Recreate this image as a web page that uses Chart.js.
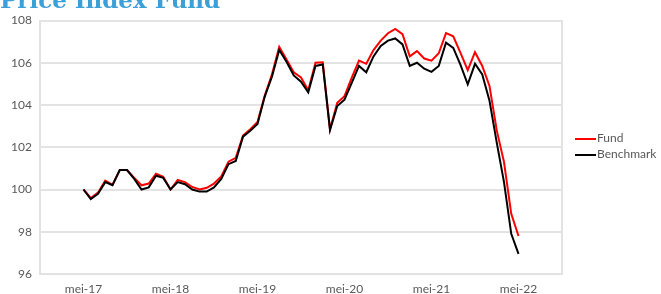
<!DOCTYPE html>
<html>
<head>
<meta charset="utf-8">
<script src="https://cdn.jsdelivr.net/npm/chart.js@4/dist/chart.umd.min.js"></script>
<style>
  html, body { margin: 0; padding: 0; background: #fff; }
  #wrap { position: relative; width: 661px; height: 294px; overflow: hidden; }
  #legend { position: absolute; left: 575px; top: 130px; font-family: Lato, sans-serif; font-size: 12px; color: #595959; }
  #legend div { height: 16px; line-height: 16px; white-space: nowrap; }
  #legend span { display: inline-block; width: 21px; height: 2px; vertical-align: middle; margin-right: 1px; }
</style>
</head>
<body>
<div id="wrap">
  <canvas id="priceChart"></canvas>
  <div id="legend"></div>
</div>
<script>
// --- Données (mei-17 t/m mei-22, maandelijks) ---
const months = ['jan','feb','mrt','apr','mei','jun','jul','aug','sep','okt','nov','dec'];

const fund = [
  100.0, 99.6, 99.85, 100.42, 100.22, 100.92, 100.92, 100.55, 100.2, 100.28, 100.75, 100.6,
  100.0, 100.45, 100.35, 100.12, 100.0, 100.08, 100.28, 100.62, 101.32, 101.5, 102.55, 102.85,
  103.2, 104.45, 105.45, 106.75, 106.15, 105.55, 105.3, 104.7, 106.0, 106.02, 102.85, 104.1,
  104.42, 105.3, 106.1, 105.95, 106.6, 107.05, 107.4, 107.6, 107.35, 106.3, 106.55, 106.2,
  106.1, 106.45, 107.4, 107.25, 106.47, 105.65, 106.5, 105.85, 104.9, 102.8, 101.3, 98.85,
  97.8
];

const benchmark = [
  100.0, 99.55, 99.8, 100.35, 100.2, 100.92, 100.92, 100.5, 100.0, 100.1, 100.65, 100.55,
  100.0, 100.35, 100.25, 100.0, 99.9, 99.9, 100.1, 100.5, 101.2, 101.35, 102.5, 102.78,
  103.1, 104.4, 105.35, 106.6, 106.05, 105.4, 105.1, 104.6, 105.85, 105.92, 102.82, 103.95,
  104.25, 105.05, 105.85, 105.55, 106.3, 106.8, 107.05, 107.15, 106.87, 105.85, 106.0, 105.72,
  105.57, 105.85, 106.95, 106.7, 105.9, 104.98, 105.95, 105.45, 104.2, 102.22, 100.35, 97.9,
  96.95
];

// As van nov-16 t/m nov-22 (lege maanden aan beide kanten, zoals in Excel)
const PAD = 6;
const labels = [];
for (let i = 0; i < fund.length + 2 * PAD; i++) {
  const m = (10 + i) % 12;
  const y = 16 + Math.floor((10 + i) / 12);
  labels.push(months[m] + '-' + y);
}
const blank = new Array(PAD).fill(null);

const yTicks = [96, 98, 100, 102, 104, 106, 108];

const GRID = '#e3e3e3';
const TEXT = '#595959';
const FONT = 'Lato, sans-serif';

// --- Titel (half buiten beeld, zoals in het origineel) ---
const titlePlugin = {
  id: 'titleText',
  afterDraw(chart) {
    const ctx = chart.ctx;
    ctx.save();
    ctx.font = 'bold 23px "DejaVu Serif", serif';
    ctx.fillStyle = '#3BA0D8';
    ctx.textBaseline = 'alphabetic';
    ctx.fillText('Price Index Fund', 0, 8);
    ctx.restore();
  }
};

const datasets = [
  { label: 'Fund', data: blank.concat(fund, blank), borderColor: '#FF0000', order: 1 },
  { label: 'Benchmark', data: blank.concat(benchmark, blank), borderColor: '#000000', order: 0 }
];

new Chart(document.getElementById('priceChart'), {
  type: 'line',
  data: {
    labels: labels,
    datasets: datasets.map(d => Object.assign({
      borderWidth: 2,
      pointRadius: 0,
      tension: 0,
      fill: false,
      spanGaps: false
    }, d))
  },
  options: {
    responsive: true,
    maintainAspectRatio: false,
    animation: false,
    layout: { padding: { top: 20.5, right: 99, left: 0, bottom: 0 } },
    plugins: {
      legend: { display: false },
      tooltip: { enabled: false }
    },
    scales: {
      x: {
        offset: false,
        grid: { display: false, drawTicks: false },
        border: { display: false },
        afterFit: s => { s.height = 20; },
        ticks: {
          autoSkip: false,
          maxRotation: 0,
          padding: 8,
          color: TEXT,
          font: { family: FONT, size: 12 },
          callback: function (v) {
            const l = this.getLabelForValue(v);
            return l.startsWith('mei') ? l : '';
          }
        }
      },
      y: {
        min: 96,
        max: 108,
        afterFit: s => { s.width = 40; },
        afterBuildTicks: s => { s.ticks = yTicks.map(v => ({ value: v })); },
        grid: { color: GRID, lineWidth: 2, drawTicks: false },
        border: { display: true, color: GRID, width: 2 },
        ticks: { padding: 8, color: TEXT, font: { family: FONT, size: 12 } }
      },
      y2: {
        position: 'right',
        min: 96,
        max: 108,
        afterFit: s => { s.width = 0; },
        grid: { display: false, drawTicks: false },
        border: { display: true, color: GRID, width: 2 },
        ticks: { display: false }
      }
    }
  },
  plugins: [titlePlugin]
});

// --- Legende ---
const legend = document.getElementById('legend');
datasets.forEach(d => {
  const row = document.createElement('div');
  const sw = document.createElement('span');
  sw.style.background = d.borderColor;
  row.appendChild(sw);
  row.appendChild(document.createTextNode(d.label));
  legend.appendChild(row);
});
</script>
</body>
</html>
